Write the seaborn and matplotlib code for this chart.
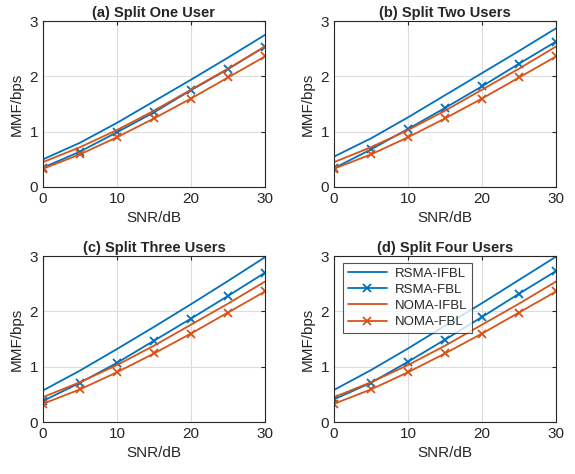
import matplotlib
matplotlib.use("Agg")
import matplotlib.pyplot as plt
import seaborn as sns
import pandas as pd

snr = [0, 5, 10, 15, 20, 25, 30]

titles = ["(a) Split One User", "(b) Split Two Users",
          "(c) Split Three Users", "(d) Split Four Users"]

rsma_ifbl = [
    [0.50, 0.80, 1.16, 1.55, 1.94, 2.34, 2.75],
    [0.55, 0.88, 1.26, 1.66, 2.06, 2.46, 2.87],
    [0.57, 0.93, 1.32, 1.72, 2.13, 2.55, 2.98],
    [0.58, 0.94, 1.33, 1.74, 2.15, 2.57, 2.99],
]
rsma_fbl = [
    [0.35, 0.64, 0.99, 1.35, 1.75, 2.13, 2.54],
    [0.34, 0.68, 1.05, 1.43, 1.82, 2.23, 2.63],
    [0.38, 0.71, 1.07, 1.47, 1.87, 2.28, 2.70],
    [0.41, 0.71, 1.09, 1.49, 1.90, 2.32, 2.73],
]
noma_ifbl = [0.45, 0.72, 1.03, 1.38, 1.76, 2.14, 2.54]
noma_fbl = [0.33, 0.59, 0.90, 1.24, 1.60, 1.98, 2.36]

blue = "#0072BD"
orange = "#D95319"


def main():
    sns.set_style("white")
    plt.rcParams["font.family"] = ["Liberation Sans", "DejaVu Sans"]
    plt.rcParams["font.size"] = 10

    fig = plt.figure(figsize=(5.75, 4.74), dpi=100)
    lefts = [0.0748, 0.581, 0.0748, 0.581]
    bottoms = [0.6055, 0.6055, 0.1097, 0.1097]
    w, h = 0.386, 0.35

    for i in range(4):
        ax = fig.add_axes([lefts[i], bottoms[i], w, h])
        series = [
            ("RSMA-IFBL", rsma_ifbl[i], blue, None),
            ("RSMA-FBL", rsma_fbl[i], blue, "x"),
            ("NOMA-IFBL", noma_ifbl, orange, None),
            ("NOMA-FBL", noma_fbl, orange, "x"),
        ]
        for name, vals, col, mk in series:
            df = pd.DataFrame({"SNR": snr, "MMF": vals})
            sns.lineplot(data=df, x="SNR", y="MMF", ax=ax, color=col,
                         marker=mk, markersize=6, markeredgewidth=1.3,
                         markeredgecolor=col, markerfacecolor=col,
                         linewidth=1.3, label=name)
        ax.set_xlim(0, 30)
        ax.set_ylim(0, 3)
        ax.set_xticks([0, 10, 20, 30])
        ax.set_yticks([0, 1, 2, 3])
        ax.grid(True, color="#dcdcdc", linewidth=0.8)
        ax.tick_params(direction="in", labelsize=11, colors="#262626",
                       length=3, top=True, right=True)
        for s in ax.spines.values():
            s.set_color("#262626")
            s.set_linewidth(0.8)
        ax.set_xlabel("SNR/dB", fontsize=11, color="#262626")
        ax.set_ylabel("MMF/bps", fontsize=11, color="#262626")
        ax.set_title(titles[i], fontsize=10.5, fontweight="bold", pad=3)
        if i == 3:
            leg = ax.legend(loc="upper left", bbox_to_anchor=(0.04, 0.96),
                            borderaxespad=0, fontsize=9.5, handlelength=3.0,
                            frameon=True, fancybox=False, borderpad=0.35,
                            labelspacing=0.3, handletextpad=0.6)
            leg.get_frame().set_edgecolor("#262626")
            leg.get_frame().set_linewidth(0.8)
        else:
            ax.get_legend().remove()

    fig.savefig("out.png", dpi=100)


if __name__ == "__main__":
    main()
